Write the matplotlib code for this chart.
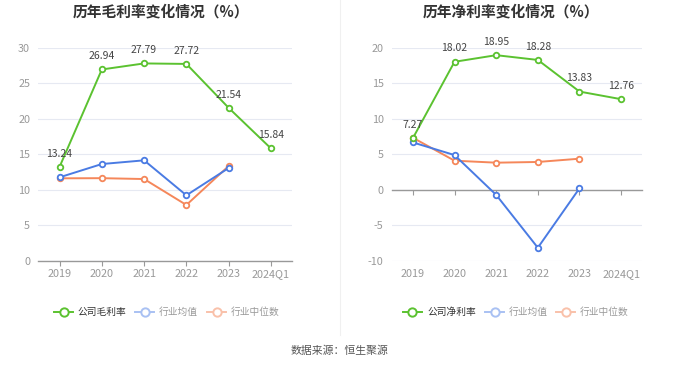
import matplotlib
matplotlib.use("Agg")
import matplotlib.pyplot as plt
from matplotlib.lines import Line2D

plt.rcParams['font.family'] = ['Noto Sans CJK SC', 'DejaVu Sans']
plt.rcParams['axes.unicode_minus'] = False

categories = ['2019', '2020', '2021', '2022', '2023', '2024Q1']

gross_company = [13.24, 26.94, 27.79, 27.72, 21.54, 15.84]
gross_ind_avg = [11.77, 13.64, 14.16, 9.24, 13.08]
gross_ind_med = [11.63, 11.65, 11.53, 7.88, 13.36]

net_company = [7.27, 18.02, 18.95, 18.28, 13.83, 12.76]
net_ind_avg = [6.68, 4.90, -0.70, -8.13, 0.23]
net_ind_med = [7.34, 4.11, 3.83, 3.93, 4.39]

gross_ticks = [0, 5, 10, 15, 20, 25, 30]
net_ticks = [-10, -5, 0, 5, 10, 15, 20]

titles = ['历年毛利率变化情况（%）', '历年净利率变化情况（%）']
legend_left = ['公司毛利率', '行业均值', '行业中位数']
legend_right = ['公司净利率', '行业均值', '行业中位数']
source = '数据来源：恒生聚源'

GREEN = '#5bc230'
BLUE = '#4a7be3'
ORANGE = '#f5875a'
GRID = '#e6e9f2'
TICKC = '#999999'
FS = 7.8

fig = plt.figure(figsize=(6.8, 3.67), dpi=100)

def draw(ax, comp, avg, med, ticks, ylim):
    x = list(range(len(categories)))
    ax.set_xlim(-0.5, len(categories) - 0.5)
    ax.set_ylim(*ylim)
    ax.set_yticks(ticks)
    ax.yaxis.grid(True, color=GRID, lw=0.8)
    ax.set_axisbelow(True)
    for s in ['top', 'right', 'left']:
        ax.spines[s].set_visible(False)
    ax.tick_params(axis='y', length=0, labelsize=FS, colors=TICKC, pad=6)
    mk = dict(marker='o', markersize=4, markerfacecolor='white', markeredgewidth=1.3)
    ax.plot(x[:len(med)], med, color=ORANGE, lw=1.4, markeredgecolor=ORANGE, zorder=3, **mk)
    ax.plot(x[:len(avg)], avg, color=BLUE, lw=1.4, markeredgecolor=BLUE, zorder=4, **mk)
    ax.plot(x, comp, color=GREEN, lw=1.4, markeredgecolor=GREEN, zorder=5, **mk)
    for xi, v in zip(x, comp):
        ax.annotate(f'{v:.2f}', (xi, v), xytext=(0, 6), textcoords='offset points',
                    ha='center', va='bottom', fontsize=7.5, color='#444444', zorder=6)
    # axis line at zero with ticks
    ax.spines['bottom'].set_position(('data', 0))
    ax.spines['bottom'].set_color('#999999')
    ax.spines['bottom'].set_linewidth(1.0)
    ax.spines['bottom'].set_zorder(2.5)
    ax.set_xticks(x)
    ax.set_xticklabels([])
    ax.tick_params(axis='x', length=3.5, color='#999999', width=0.8)
    # category labels at bottom
    sec = ax.secondary_xaxis('bottom')
    sec.set_xticks(x)
    sec.set_xticklabels(categories)
    sec.tick_params(axis='x', length=0, labelsize=FS, colors=TICKC, pad=6)
    sec.spines['bottom'].set_visible(False)

ax1 = fig.add_axes([0.0565, 0.2888, 0.373, 0.5812])
draw(ax1, gross_company, gross_ind_avg, gross_ind_med, gross_ticks, (0, 30))
ax2 = fig.add_axes([0.5765, 0.2888, 0.3676, 0.5812])
draw(ax2, net_company, net_ind_avg, net_ind_med, net_ticks, (-10, 20))

fig.text(161 / 680, 1 - 12 / 367, titles[0], ha='center', va='center', fontsize=10.6,
         fontweight='bold', color='#333333')
fig.text(511 / 680, 1 - 12 / 367, titles[1], ha='center', va='center', fontsize=10.6,
         fontweight='bold', color='#333333')

# divider
fig.add_artist(Line2D([340 / 680, 340 / 680], [1, 1 - 335 / 367], transform=fig.transFigure,
                      color='#f0f0f0', lw=0.8))

def legend(x0s, labels):
    cols = [GREEN, '#a9c1f3', '#f9c1aa']
    tcols = ['#333333', '#999999', '#999999']
    y = 1 - 312 / 367
    for x0, lab, c, tc in zip(x0s, labels, cols, tcols):
        fig.add_artist(Line2D([x0 / 680, (x0 + 19) / 680], [y, y], transform=fig.transFigure,
                              color=c, lw=1.4))
        fig.add_artist(Line2D([(x0 + 9.5) / 680], [y], transform=fig.transFigure, color=c,
                              marker='o', markersize=6, markerfacecolor='white', markeredgewidth=1.4))
        fig.text((x0 + 24) / 680, y, lab, ha='left', va='center', fontsize=7, color=tc)

legend([54, 135, 207], legend_left)
legend([403, 485, 556], legend_right)

fig.text(340 / 680, 1 - 351 / 367, source, ha='center', va='center', fontsize=7.8, color='#555555')

fig.savefig('out.png', dpi=100, facecolor='white')
